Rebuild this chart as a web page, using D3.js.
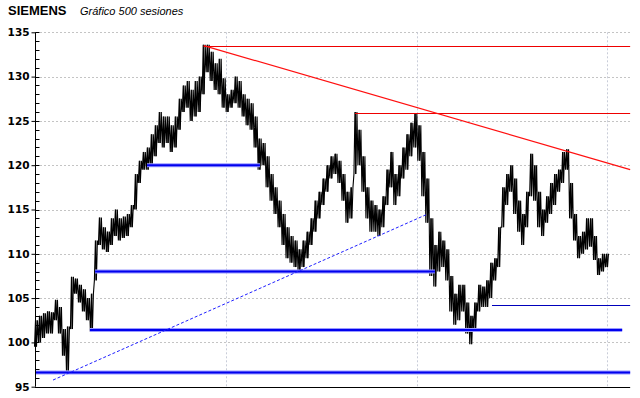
<!DOCTYPE html>
<html>
<head>
<meta charset="utf-8">
<script src="https://cdn.jsdelivr.net/npm/d3@7"></script>
<style>
  body { margin: 0; background: #fff; }
  svg { display: block; }
</style>
</head>
<body>
<div id="chart"></div>
<script>
// price path, sampled roughly every 3.5 sessions (low / high)
const lows = [99.5,100,100.5,101,101,102.5,101,98.5,96.8,101.5,105.5,104.5,103.5,102.5,101.2,107,111,110.5,110.2,111,
  112,111.5,111.8,112,113,115,118,119.5,119.5,120,121,122.5,122,122.5,121.5,122,124,126,126.5,125,
  125.5,126,128,130.5,129.5,128.5,128,126.5,126,126.5,127,126.5,125.5,124.5,124,122,119.5,120,117.5,116,
  114.5,113,111,109.5,109,108.5,108,108.5,109.5,111,112.5,114,115.5,117,118.5,119,118,116,113.5,114,
  119,120,117,114,112.5,112.5,112,113,115.5,117.5,115.5,116.5,118.5,119.5,121,122,120.5,116.5,113.5,107.5,
  106.3,108,108.5,107,103.5,102,102.5,103.5,101,99.8,101.5,103.5,104,104,105,107,108.5,113,115.5,117,
  114.5,112.5,111,113,116.5,116,113,112,113.5,114.5,115.5,117,118,119.5,114,111.5,109.5,110,110.5,110.8,
  109.3,107.6,108,108.5];
const highs = [102.5,103,103.3,103.5,103.4,104.8,104,101.5,101.8,107.4,107.2,106.5,106,105,105.5,111.5,114.1,113,112.5,114,
  115,114,114.2,114.5,115.5,119,120.5,121.5,122,123.5,124.5,126,125.5,125.5,124.5,125.5,127.5,129,129.5,128.5,
  129.5,130,133.6,133.6,132.8,131.5,132,129.8,128,128.5,130,129.5,128,127.5,127,125.5,123,122.5,121,119,
  117.5,116,114.5,113,112,111.5,110.5,111.5,112.5,114,116,117,118.5,120,121,121.3,120.5,119,117,117.5,
  126,124,121,117.5,116,115.5,115,116.5,119.5,121.5,119,120,122,123.5,124.8,125.8,124.5,121.5,118.5,114,
  111,112.5,111.5,110.5,107.5,105.5,106.5,106.5,104.5,103,104.5,106.5,106.3,107,109,109.5,113,117.5,119,120,
  118.5,116,114.5,117,121.3,120,117,115,116.5,118,119,119.5,121.5,121.8,118,114.5,112,112.5,114,114,
  112,109.5,110,110];

// horizontal support / resistance levels (sample index from..to, price)
const supports = [
  { level: 120, from: 27.8, to: 56.1 },
  { level: 108, from: 14.8, to: 99.9 },
  { level: 101.4, from: 13.5, to: 146.8 },
  { level: 96.6, from: 0, to: 148.8 }
];
const resistances = [
  { level: 133.5, from: 42, to: 148.8 },
  { level: 125.9, from: 79.9, to: 148.8 }
];
const thinLevels = [
  { level: 104.2, from: 114.2, to: 148.8 }
];
const downTrend = [[42, 133.5], [148.8, 119.5]];
const upTrend = [[4.26, 95.75], [97.9, 114.45]];

const yTicks = [95, 100, 105, 110, 115, 120, 125, 130, 135];
const xGrid = [143 / 3, 286 / 3, 143];

const W = 640, H = 398;
const svg = d3.select("#chart").append("svg")
  .attr("width", W)
  .attr("height", H);

const x = d3.scaleLinear().domain([0, 143]).range([36, 607]);
const y = d3.scaleLinear().domain([95, 135]).range([386.7, 32.3]);
const xEnd = x(148.8);

// title
svg.append("text")
  .attr("x", 8).attr("y", 15)
  .style("font-family", "'Liberation Sans', Arial, sans-serif")
  .style("font-weight", "bold")
  .style("font-size", "13px")
  .text("SIEMENS");
svg.append("text")
  .attr("x", 80).attr("y", 15)
  .style("font-family", "'Liberation Sans', Arial, sans-serif")
  .style("font-style", "italic")
  .style("font-size", "11px")
  .text("Gráfico 500 sesiones");

// grid
svg.append("g")
  .selectAll("line")
  .data(yTicks.slice(1))
  .join("line")
    .attr("x1", 36).attr("x2", xEnd)
    .attr("y1", d => Math.round(y(d)) + 0.5)
    .attr("y2", d => Math.round(y(d)) + 0.5)
    .attr("stroke", "#c4c4c4")
    .attr("stroke-dasharray", "2,2");
svg.append("g")
  .selectAll("line")
  .data(xGrid)
  .join("line")
    .attr("x1", d => Math.round(x(d)) + 0.5)
    .attr("x2", d => Math.round(x(d)) + 0.5)
    .attr("y1", y(135)).attr("y2", y(95))
    .attr("stroke", "#c8ccd8")
    .attr("stroke-dasharray", "2,2");

// left axis
const yAxis = d3.axisLeft(y)
  .tickValues(yTicks)
  .tickSize(4)
  .tickPadding(2)
  .tickFormat(d3.format("d"));
const ax = svg.append("g")
  .attr("transform", "translate(35.5,0)")
  .call(yAxis);
ax.select(".domain").remove();
ax.selectAll("text")
  .style("font-family", "'DejaVu Sans', Verdana, sans-serif")
  .style("font-weight", "bold")
  .style("font-size", "10.5px")
  .attr("fill", "#000");
ax.selectAll("line").attr("stroke", "#000");
ax.append("line")
  .attr("y1", y(135)).attr("y2", y(95))
  .attr("stroke", "#000");
ax.append("g")
  .selectAll("line")
  .data(d3.range(95, 136))
  .join("line")
    .attr("x1", 0).attr("x2", 4)
    .attr("y1", d => Math.round(y(d)) + 0.5)
    .attr("y2", d => Math.round(y(d)) + 0.5)
    .attr("stroke", "#000");

// bottom line
svg.append("line")
  .attr("x1", 35).attr("x2", xEnd)
  .attr("y1", Math.round(y(95)) + 0.5)
  .attr("y2", Math.round(y(95)) + 0.5)
  .attr("stroke", "#000");

// price bars: dense zigzag between each sample's low and high, plus the bar itself
const bars = lows.map((l, i) => ({ i, lo: l, hi: highs[i] }));
const zig = [];
bars.forEach(d => {
  zig.push([d.i - 0.375, d.lo], [d.i - 0.125, d.hi], [d.i + 0.125, d.lo], [d.i + 0.375, d.hi]);
});
svg.append("path")
  .attr("d", d3.line().x(d => x(d[0])).y(d => y(d[1]))(zig))
  .attr("fill", "none")
  .attr("stroke", "#000")
  .attr("stroke-width", 1.1);
svg.append("g")
  .selectAll("line")
  .data(bars)
  .join("line")
    .attr("x1", d => x(d.i)).attr("x2", d => x(d.i))
    .attr("y1", d => y(d.lo)).attr("y2", d => y(d.hi))
    .attr("stroke", "#000")
    .attr("stroke-width", 1);

// support lines
const sup = svg.append("g");
sup.selectAll("line.halo")
  .data(supports)
  .join("line")
    .attr("class", "halo")
    .attr("x1", d => x(d.from)).attr("x2", d => x(d.to))
    .attr("y1", d => y(d.level)).attr("y2", d => y(d.level))
    .attr("stroke", "#9a9aff")
    .attr("stroke-width", 4);
sup.selectAll("line.core")
  .data(supports)
  .join("line")
    .attr("class", "core")
    .attr("x1", d => x(d.from)).attr("x2", d => x(d.to))
    .attr("y1", d => y(d.level)).attr("y2", d => y(d.level))
    .attr("stroke", "#0000ee")
    .attr("stroke-width", 2);

// resistance lines
svg.append("g")
  .selectAll("line")
  .data(resistances)
  .join("line")
    .attr("x1", d => x(d.from)).attr("x2", d => x(d.to))
    .attr("y1", d => Math.round(y(d.level)) + 0.5)
    .attr("y2", d => Math.round(y(d.level)) + 0.5)
    .attr("stroke", "#ee0000");
svg.append("g")
  .selectAll("line")
  .data(thinLevels)
  .join("line")
    .attr("x1", d => x(d.from)).attr("x2", d => x(d.to))
    .attr("y1", d => Math.round(y(d.level)) + 0.5)
    .attr("y2", d => Math.round(y(d.level)) + 0.5)
    .attr("stroke", "#0000bb");

// trend lines
const line = d3.line().x(d => x(d[0])).y(d => y(d[1]));
svg.append("path")
  .attr("d", line(downTrend))
  .attr("fill", "none")
  .attr("stroke", "#ff1010")
  .attr("stroke-width", 1.2);
svg.append("path")
  .attr("d", line(upTrend))
  .attr("fill", "none")
  .attr("stroke", "#2020ff")
  .attr("stroke-width", 1)
  .attr("stroke-dasharray", "3,2");
</script>
</body>
</html>
